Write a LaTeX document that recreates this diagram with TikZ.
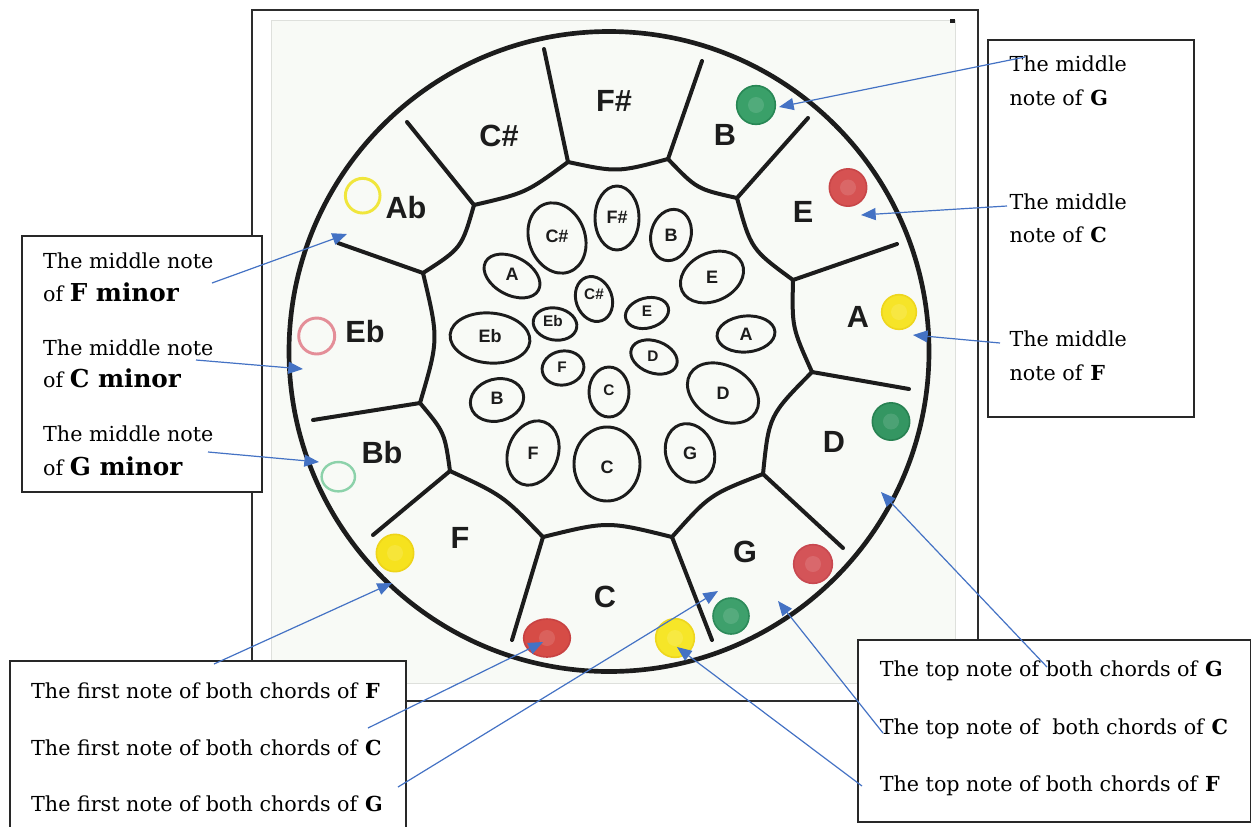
\documentclass[tikz,border=0pt]{standalone}
\usepackage{fontspec}
\setmainfont{DejaVu Serif}
\setsansfont{Liberation Sans}
\usetikzlibrary{calc,arrows.meta,shapes.geometric}

\tikzset{every picture/.style={line width=0.75pt}}
\tikzset{
  padline/.style={draw={rgb, 255:red, 28; green, 28; blue, 28 }, line width=3pt, line cap=round, line join=round},
  noteoval/.style={draw={rgb, 255:red, 28; green, 28; blue, 28 }, line width=2.2pt},
  padlabel/.style={font=\sffamily\bfseries\fontsize{23}{23}\selectfont, color={rgb, 255:red, 28; green, 28; blue, 28 }, inner sep=0pt},
  ovallabel/.style={font=\sffamily\bfseries\fontsize{13.5}{13.5}\selectfont, color={rgb, 255:red, 28; green, 28; blue, 28 }, inner sep=0pt},
  smalllabel/.style={ovallabel, font=\sffamily\bfseries\fontsize{11.5}{11.5}\selectfont},
  notebox/.style={draw={rgb, 255:red, 40; green, 40; blue, 40 }, fill=white, line width=0.9pt},
  notetext/.style={anchor=base west, inner sep=0pt, font=\fontsize{15.5}{18}\selectfont},
  callout/.style={draw={rgb, 255:red, 68; green, 114; blue, 196 }, line width=0.9pt, -{Triangle[length=11pt,width=9pt]}},
  crayon/.style={circle, inner sep=0pt, minimum size=28pt, line width=1.2pt, path picture={\fill[white, opacity=0.12] (path picture bounding box.center) circle (6pt);}},
  crayonring/.style={circle, inner sep=0pt, minimum size=28pt, line width=2.2pt},
}

\begin{document}
\begin{tikzpicture}[x=0.75pt,y=0.75pt,yscale=-1,xscale=1]
\useasboundingbox (0,0) rectangle (1252,826);

%Shape: Rectangle [photo frame]
\draw [color={rgb, 255:red, 45; green, 45; blue, 45 }, line width=1.1pt, fill=white] (252,10) rectangle (978,701);
%Shape: Rectangle [paper]
\draw [color={rgb, 255:red, 222; green, 224; blue, 220 }, line width=0.6pt, fill={rgb, 255:red, 248; green, 250; blue, 246 }] (271,20) rectangle (955,683);
\fill [color={rgb, 255:red, 30; green, 30; blue, 30 }] (950,19) rectangle (955,23);

\coordinate (ctr) at (609,351.5);
%Shape: Circle
\draw [padline, line width=3.5pt] (ctr) circle (320);

%junctions of the pads
\coordinate (jFsCs) at (568,162);  \coordinate (oFsCs) at (544,49);
\coordinate (jFsB) at (668,159);   \coordinate (oFsB) at (702,61);
\coordinate (jBE) at (737,198);    \coordinate (oBE) at (808,118);
\coordinate (jEA) at (793,280);    \coordinate (oEA) at (897,244);
\coordinate (jAD) at (812,372);    \coordinate (oAD) at (909,389);
\coordinate (jDG) at (763,474);    \coordinate (oDG) at (843,548);
\coordinate (jGC) at (672,537);    \coordinate (oGC) at (712,640);
\coordinate (jCF) at (543,537);    \coordinate (oCF) at (512,640);
\coordinate (jFBb) at (450,471);   \coordinate (oFBb) at (373,535);
\coordinate (jBbEb) at (420,403);  \coordinate (oBbEb) at (313,420);
\coordinate (jEbAb) at (423,273);  \coordinate (oEbAb) at (338,243);
\coordinate (jAbCs) at (474,205);  \coordinate (oAbCs) at (407,122);

%Straight Lines
\foreach \p in {FsCs,FsB,BE,EA,AD,DG,GC,CF,FBb,BbEb,EbAb,AbCs}
  \draw [padline] (o\p) -- (j\p);
%Curve Lines
\foreach \a/\b/\s in {FsCs/FsB/9pt,FsB/BE/9pt,BE/EA/13pt,EA/AD/8pt,AD/DG/15pt,DG/GC/10pt,GC/CF/12pt,CF/FBb/8pt,FBb/BbEb/8pt,BbEb/EbAb/13pt,EbAb/AbCs/12pt,AbCs/FsCs/8pt}
  \draw [padline] (j\a) .. controls ($(j\a)!.5!(j\b)!\s!(ctr)$) .. (j\b);

% Pad labels
\node [padlabel] (pFs) at (614,101) {F\#};
\node [padlabel] (pCs) at (499,136) {C\#};
\node [padlabel] (pB) at (725,135) {B};
\node [padlabel] (pAb) at (406,208) {Ab};
\node [padlabel] (pE) at (803,212) {E};
\node [padlabel] (pEb) at (365,332) {Eb};
\node [padlabel] (pA) at (858,317) {A};
\node [padlabel] (pBb) at (382,453) {Bb};
\node [padlabel] (pD) at (834,442) {D};
\node [padlabel] (pF) at (460,538) {F};
\node [padlabel] (pG) at (745,552) {G};
\node [padlabel] (pC) at (605,597) {C};

%Shape: Ellipse [outer ring of tone fields]
\draw [noteoval, rotate around={0:(617,218)}] (617,218) ellipse (22 and 32);
\node [ovallabel] (oFs) at (617,217) {F\#};
\draw [noteoval, rotate around={15:(671,235)}] (671,235) ellipse (20 and 26);
\node [ovallabel] (oB) at (671,235) {B};
\draw [noteoval, rotate around={-25:(712,277)}] (712,277) ellipse (33 and 24);
\node [ovallabel] (oE) at (712,277) {E};
\draw [noteoval, rotate around={-5:(746,334)}] (746,334) ellipse (29 and 18);
\node [ovallabel] (oA) at (746,334) {A};
\draw [noteoval, rotate around={30:(723,393)}] (723,393) ellipse (38 and 27);
\node [ovallabel] (oD) at (723,393) {D};
\draw [noteoval, rotate around={-20:(690,453)}] (690,453) ellipse (24 and 30);
\node [ovallabel] (oG) at (690,453) {G};
\draw [noteoval] (607,464) ellipse (33 and 37);
\node [ovallabel] (oC) at (607,467) {C};
\draw [noteoval, rotate around={20:(533,453)}] (533,453) ellipse (25 and 33);
\node [ovallabel] (oF) at (533,453) {F};
\draw [noteoval, rotate around={-15:(497,400)}] (497,400) ellipse (27 and 21);
\node [ovallabel] (oBl) at (497,398) {B};
\draw [noteoval, rotate around={5:(490,338)}] (490,338) ellipse (40 and 25);
\node [ovallabel] (oEb) at (490,336) {Eb};
\draw [noteoval, rotate around={28:(512,276)}] (512,276) ellipse (30 and 19);
\node [ovallabel] (oAl) at (512,274) {A};
\draw [noteoval, rotate around={-20:(557,238)}] (557,238) ellipse (28 and 36);
\node [ovallabel] (oCs) at (557,236) {C\#};

%Shape: Ellipse [inner ring of tone fields]
\draw [noteoval, rotate around={-20:(594,299)}] (594,299) ellipse (18 and 23);
\node [smalllabel] (iCs) at (594,294) {C\#};
\draw [noteoval, rotate around={-15:(647,313)}] (647,313) ellipse (22 and 15);
\node [smalllabel] (iE) at (647,311) {E};
\draw [noteoval, rotate around={20:(654,357)}] (654,357) ellipse (24 and 16);
\node [smalllabel] (iD) at (653,356) {D};
\draw [noteoval] (609,392) ellipse (20 and 25);
\node [smalllabel] (iC) at (609,390) {C};
\draw [noteoval, rotate around={-10:(563,368)}] (563,368) ellipse (21 and 17);
\node [smalllabel] (iF) at (562,367) {F};
\draw [noteoval, rotate around={10:(555,324)}] (555,324) ellipse (22 and 16);
\node [smalllabel] (iEb) at (553,321) {Eb};

%Crayon marks
\node [crayon, fill={rgb, 255:red, 58; green, 160; blue, 105 }, draw={rgb, 255:red, 40; green, 135; blue, 85 }, minimum size=29pt] (dotB) at (756,105) {};
\node [crayon, fill={rgb, 255:red, 214; green, 82; blue, 82 }, draw={rgb, 255:red, 200; green, 70; blue, 72 }, minimum size=28pt] (dotE) at (848,187.5) {};
\node [crayon, fill={rgb, 255:red, 246; green, 228; blue, 40 }, draw={rgb, 255:red, 238; green, 214; blue, 30 }, minimum size=26pt] (dotA) at (899,312) {};
\node [crayon, fill={rgb, 255:red, 52; green, 150; blue, 98 }, draw={rgb, 255:red, 40; green, 130; blue, 82 }, minimum size=28pt] (dotD) at (891,421.5) {};
\node [crayon, fill={rgb, 255:red, 212; green, 84; blue, 88 }, draw={rgb, 255:red, 200; green, 72; blue, 80 }, minimum size=29pt] (dotG) at (813,564) {};
\node [crayon, fill={rgb, 255:red, 62; green, 160; blue, 108 }, draw={rgb, 255:red, 45; green, 138; blue, 90 }, minimum size=27pt] (dotGg) at (731,616) {};
\node [crayon, fill={rgb, 255:red, 246; green, 230; blue, 40 }, draw={rgb, 255:red, 238; green, 214; blue, 30 }, minimum size=29pt] (dotCy) at (675,638) {};
\node [crayon, ellipse, fill={rgb, 255:red, 214; green, 76; blue, 70 }, draw={rgb, 255:red, 200; green, 66; blue, 66 }, minimum width=35pt, minimum height=28.5pt] (dotC) at (547,638) {};
\node [crayon, fill={rgb, 255:red, 246; green, 226; blue, 30 }, draw={rgb, 255:red, 238; green, 212; blue, 25 }, minimum size=28pt] (dotF) at (395,553) {};
\node [crayonring, draw={rgb, 255:red, 240; green, 230; blue, 60 }, minimum size=26pt] (ringAb) at (362.7,195.7) {};
\node [crayonring, draw={rgb, 255:red, 228; green, 142; blue, 152 }, minimum size=27pt] (ringEb) at (316.7,336) {};
\node [crayonring, ellipse, draw={rgb, 255:red, 140; green, 210; blue, 170 }, line width=1.8pt, minimum width=25pt, minimum height=22pt] (ringBb) at (338.3,476.7) {};

%Shape: Rectangle [note boxes]
\draw [notebox] (22,236) rectangle (262,492);
\draw [notebox] (988,40) rectangle (1194,417);
\draw [notebox] (10,661) rectangle (406,840);
\draw [notebox] (858,640) rectangle (1250.5,822);

% Text Node
\node [notetext] (tMidG1) at (1009,71.7) {The middle};
\node [notetext] (tMidG2) at (1009,105) {note of \textbf{G}};
\node [notetext] (tMidC1) at (1009,209.3) {The middle};
\node [notetext] (tMidC2) at (1009,242.7) {note of \textbf{C}};
\node [notetext] (tMidF1) at (1009,346) {The middle};
\node [notetext] (tMidF2) at (1009,380) {note of \textbf{F}};
% Text Node
\node [notetext] (tMinF1) at (42.7,268.3) {The middle note};
\node [notetext] (tMinF2) at (42.7,301.7) {of {\fontsize{18.5}{20}\selectfont\bfseries F minor}};
\node [notetext] (tMinC1) at (42.7,355) {The middle note};
\node [notetext] (tMinC2) at (42.7,387.7) {of {\fontsize{18.5}{20}\selectfont\bfseries C minor}};
\node [notetext] (tMinG1) at (42.7,441.7) {The middle note};
\node [notetext] (tMinG2) at (42.7,475) {of {\fontsize{18.5}{20}\selectfont\bfseries G minor}};
% Text Node
\node [notetext] (tFirstF) at (30.7,698.3) {The first note of both chords of \textbf{F}};
\node [notetext] (tFirstC) at (30.7,755) {The first note of both chords of \textbf{C}};
\node [notetext] (tFirstG) at (30.7,811.7) {The first note of both chords of \textbf{G}};
% Text Node
\node [notetext] (tTopG) at (879.3,676.7) {The top note of both chords of \textbf{G}};
\node [notetext] (tTopC) at (879.3,734) {The top note of~ both chords of \textbf{C}};
\node [notetext] (tTopF) at (879.3,791.7) {The top note of both chords of \textbf{F}};

%Arrow ends
\coordinate (sMidG) at (1025,57);    \coordinate (aMidG) at (779,107);
\coordinate (sMidC) at (1007,206);   \coordinate (aMidC) at (861,215);
\coordinate (sMidF) at (1000,343);   \coordinate (aMidF) at (913,335);
\coordinate (sMinF) at (212,283);    \coordinate (aMinF) at (347,234);
\coordinate (sMinC) at (196,360);    \coordinate (aMinC) at (303,369);
\coordinate (sMinG) at (208,452);    \coordinate (aMinG) at (319,462);
\coordinate (sFirstF) at (214,664);  \coordinate (aFirstF) at (392,583);
\coordinate (sFirstC) at (368,728);  \coordinate (aFirstC) at (543,642);
\coordinate (sFirstG) at (398,787);  \coordinate (aFirstG) at (718,591);
\coordinate (sTopG) at (1047,667);   \coordinate (aTopG) at (881,492);
\coordinate (sTopC) at (883,733);    \coordinate (aTopC) at (778,601);
\coordinate (sTopF) at (862,786);    \coordinate (aTopF) at (677,647);

%Straight Lines [arrows]
\foreach \n in {MidG,MidC,MidF,MinF,MinC,MinG,FirstF,FirstC,FirstG,TopG,TopC,TopF}
  \draw [callout] (s\n) -- (a\n);

\end{tikzpicture}
\end{document}
